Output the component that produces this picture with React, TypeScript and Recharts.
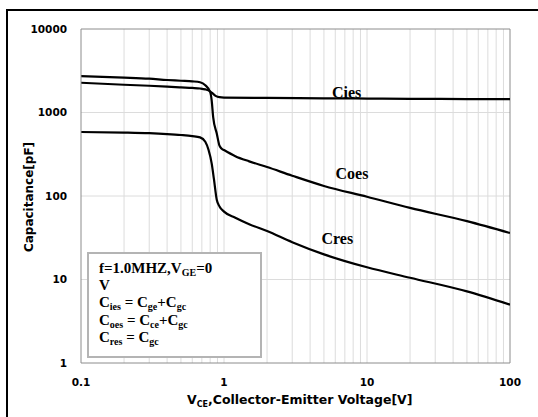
import React from 'react';
import { LineChart, Line, XAxis, YAxis, ReferenceLine, ReferenceDot } from 'recharts';

// Capacitance vs collector-emitter voltage
const ciesV = [0.1, 0.2, 0.3, 0.4, 0.5, 0.6, 0.68, 0.74, 0.8, 0.84, 0.88, 0.93, 1, 2, 5, 10, 20, 50, 100];
const ciesC = [2270, 2150, 2090, 2040, 2000, 1970, 1940, 1890, 1790, 1670, 1570, 1525, 1510, 1495, 1480, 1470, 1460, 1450, 1445];

const coesV = [0.1, 0.2, 0.3, 0.4, 0.5, 0.6, 0.68, 0.74, 0.8, 0.82, 0.84, 0.89, 0.93, 0.96, 1, 1.2, 1.5, 2, 3, 5, 10, 20, 50, 100];
const coesC = [2730, 2620, 2540, 2450, 2400, 2360, 2300, 2120, 1760, 1400, 880, 560, 400, 370, 355, 300, 260, 222, 175, 132, 98, 72, 50, 36];

const cresV = [0.1, 0.2, 0.3, 0.4, 0.5, 0.6, 0.68, 0.74, 0.78, 0.82, 0.85, 0.89, 0.93, 1, 1.2, 1.5, 2, 3, 5, 10, 20, 50, 100];
const cresC = [584, 575, 565, 552, 538, 522, 504, 447, 355, 246, 160, 90, 75, 65, 55, 46, 38, 28, 20, 14, 10.5, 7.2, 5];

const xTicks = [0.1, 1, 10, 100];
const yTicks = [1, 10, 100, 1000, 10000];
const xMinor = [0.2, 0.3, 0.4, 0.5, 0.6, 0.7, 0.8, 0.9, 2, 3, 4, 5, 6, 7, 8, 9, 20, 30, 40, 50, 60, 70, 80, 90];

// curve name labels: [text, voltage, capacitance]
const curveLabels: [string, number, number][] = [
  ['Cies', 7.2, 1760],
  ['Coes', 7.85, 188],
  ['Cres', 6.2, 31.4],
];

const toPoints = (v: number[], c: number[]) => v.map((x, i) => ({ x, y: c[i] }));

const tickStyle = { fontSize: 10.5, fontWeight: 'bold', fontFamily: 'DejaVu Sans', fill: '#000' };
const serif = "'Liberation Serif', 'Times New Roman', serif";
const sub: React.CSSProperties = { fontSize: 10, position: 'relative', top: 3, lineHeight: 0 };

export default function App() {
  return (
    <div
      style={{
        position: 'fixed',
        left: 0,
        top: 0,
        width: 538,
        height: 417,
        overflow: 'hidden',
        background: '#fff',
      }}
    >
      <LineChart width={538} height={417} margin={{ top: 29, right: 28, bottom: 24, left: 0 }}>
        <XAxis
          dataKey="x"
          type="number"
          scale="log"
          domain={[0.1, 100]}
          ticks={xTicks}
          allowDataOverflow
          height={30}
          tickSize={0}
          tickMargin={16}
          tick={tickStyle}
          axisLine={{ stroke: '#8c8c8c' }}
        />
        <YAxis
          dataKey="y"
          type="number"
          scale="log"
          domain={[1, 10000]}
          ticks={yTicks}
          allowDataOverflow
          width={81}
          tickSize={0}
          tickMargin={14}
          tick={tickStyle}
          axisLine={{ stroke: '#8c8c8c' }}
        />
        {xMinor.concat([1, 10]).map((v) => (
          <ReferenceLine key={'vx' + v} x={v} stroke="#dcdcdc" strokeWidth={1} />
        ))}
        {[10, 100, 1000].map((v) => (
          <ReferenceLine key={'hy' + v} y={v} stroke="#dcdcdc" strokeWidth={1} />
        ))}
        <ReferenceLine x={100} stroke="#8c8c8c" />
        <ReferenceLine y={10000} stroke="#8c8c8c" />

        <Line data={toPoints(ciesV, ciesC)} dataKey="y" type="monotone" stroke="#000" strokeWidth={2.2} dot={false} isAnimationActive={false} />
        <Line data={toPoints(coesV, coesC)} dataKey="y" type="monotone" stroke="#000" strokeWidth={2.2} dot={false} isAnimationActive={false} />
        <Line data={toPoints(cresV, cresC)} dataKey="y" type="monotone" stroke="#000" strokeWidth={2.2} dot={false} isAnimationActive={false} />

        {curveLabels.map(([name, v, c]) => (
          <ReferenceDot
            key={name}
            x={v}
            y={c}
            r={1}
            fill="none"
            stroke="none"
            label={{ value: name, position: 'center', fill: '#000', fontSize: 16, fontWeight: 'bold', fontFamily: serif }}
          />
        ))}
      </LineChart>

      {/* outer frame */}
      <div
        style={{
          position: 'absolute',
          left: 6,
          top: 9,
          width: 600,
          height: 500,
          border: '2px solid #000',
          pointerEvents: 'none',
        }}
      />

      {/* y axis title */}
      <div
        style={{
          position: 'absolute',
          left: 29 - 100,
          top: 197 - 8,
          width: 200,
          height: 16,
          lineHeight: '16px',
          textAlign: 'center',
          transform: 'rotate(-90deg)',
          fontFamily: 'DejaVu Sans',
          fontWeight: 'bold',
          fontSize: 12,
          whiteSpace: 'nowrap',
        }}
      >
        Capacitance[pF]
      </div>

      {/* x axis title */}
      <div
        style={{
          position: 'absolute',
          left: 187,
          top: 392,
          lineHeight: '16px',
          fontFamily: 'DejaVu Sans',
          fontWeight: 'bold',
          fontSize: 12.5,
          whiteSpace: 'nowrap',
        }}
      >
        V<span style={{ fontSize: 8, position: 'relative', top: 3, lineHeight: 0 }}>CE</span>,Collector-Emitter Voltage[V]
      </div>

      {/* condition box */}
      <div
        style={{
          position: 'absolute',
          left: 87,
          top: 252,
          width: 161,
          height: 96,
          border: '2px solid #b4b4b4',
          background: '#fff',
          paddingLeft: 10,
          paddingTop: 6,
          boxSizing: 'content-box',
          fontFamily: serif,
          fontWeight: 'bold',
          fontSize: 15,
          lineHeight: '17.2px',
          whiteSpace: 'nowrap',
          color: '#000',
        }}
      >
        <div>
          f=1.0MHZ,V<span style={sub}>GE</span>=0
        </div>
        <div>V</div>
        <div>
          C<span style={sub}>ies</span> = C<span style={sub}>ge</span>+C<span style={sub}>gc</span>
        </div>
        <div>
          C<span style={sub}>oes</span> = C<span style={sub}>ce</span>+C<span style={sub}>gc</span>
        </div>
        <div>
          C<span style={sub}>res</span> = C<span style={sub}>gc</span>
        </div>
      </div>
    </div>
  );
}
